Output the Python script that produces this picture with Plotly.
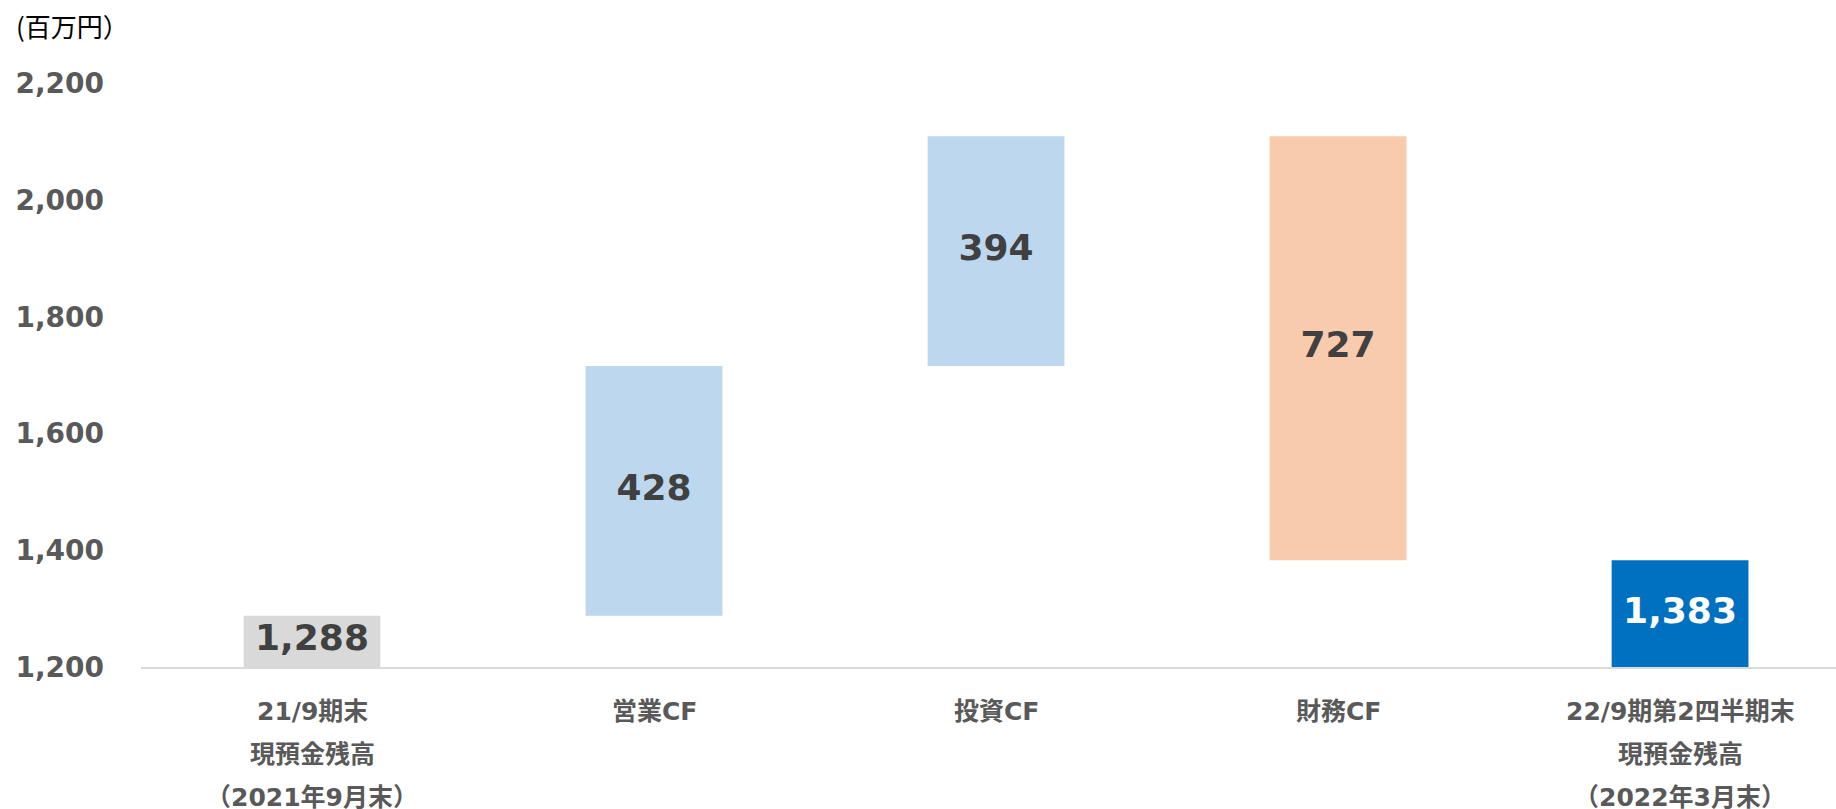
import plotly.graph_objects as go

# ---- data ----
categories = ["21/9期末 現預金残高", "営業CF", "投資CF", "財務CF", "22/9期第2四半期末 現預金残高"]
label_lines = [
    ["21/9期末", "現預金残高", "（2021年9月末）"],
    ["営業CF"],
    ["投資CF"],
    ["財務CF"],
    ["22/9期第2四半期末", "現預金残高", "（2022年3月末）"],
]
measures = ["absolute", "relative", "relative", "relative", "total"]
values = [1288, 428, 394, -727, 1383]
display_values = ["1,288", "428", "394", "727", "1,383"]
bar_colors = ["#D9D9D9", "#BDD7EE", "#BDD7EE", "#F8CBAD", "#0070C0"]
text_colors = ["#404040", "#404040", "#404040", "#404040", "#FFFFFF"]
y_ticks = [1200, 1400, 1600, 1800, 2000, 2200]
unit_label = "(百万円）"

Y_MIN, Y_MAX = 1200, 2300.6

# ---- compute waterfall bases ----
bases, heights = [], []
running = 0
for m, v in zip(measures, values):
    if m == "absolute" or m == "total":
        bases.append(0)
        heights.append(v)
        running = v
    else:
        if v >= 0:
            bases.append(running)
            heights.append(v)
        else:
            bases.append(running + v)
            heights.append(-v)
        running += v

text_y = [(max(b, Y_MIN) + b + h) / 2 for b, h in zip(bases, heights)]

xs = list(range(len(categories)))

fig = go.Figure()
fig.add_trace(go.Bar(
    x=xs, y=heights, base=bases, width=0.4,
    marker=dict(color=bar_colors, line=dict(width=0)),
    hoverinfo="skip", showlegend=False,
))
fig.add_trace(go.Scatter(
    x=xs, y=text_y, mode="text", text=display_values,
    textfont=dict(family="DejaVu Sans", size=36, color=text_colors, weight="bold"),
    textposition="middle center", hoverinfo="skip", showlegend=False,
))

annotations = []
for i, lines in enumerate(label_lines):
    for j, line in enumerate(lines):
        annotations.append(dict(
            x=i, xref="x", y=0, yref="paper", yanchor="middle", xanchor="center",
            yshift=-(44 + 43 * j), showarrow=False, text=line,
            font=dict(family="DejaVu Sans, Noto Sans CJK JP", size=25, color="#595959", weight="bold"),
        ))
annotations.append(dict(
    x=0, xref="paper", xanchor="left", xshift=-127, y=1, yref="paper", yanchor="middle",
    showarrow=False, text=unit_label,
    font=dict(family="Noto Sans CJK JP", size=26, color="#000000"),
))

fig.update_layout(
    width=1836, height=809,
    margin=dict(l=141, r=0, t=25, b=142),
    paper_bgcolor="white", plot_bgcolor="white",
    annotations=annotations,
    xaxis=dict(range=[-0.5, 4.456], showticklabels=False, showgrid=False, zeroline=False,
               showline=True, linecolor="#D9D9D9", linewidth=2, fixedrange=True),
    yaxis=dict(range=[Y_MIN, Y_MAX], tickvals=y_ticks, tickformat=",", showgrid=False,
               zeroline=False, showline=False, ticks="",
               ticklabelstandoff=36,
               tickfont=dict(family="DejaVu Sans", size=28, color="#595959", weight="bold")),
)

fig.write_html(
    "out.html",
    config={"displayModeBar": False},
    post_script="document.documentElement.style.margin='0';document.body.style.margin='0';document.body.style.overflow='hidden';",
)
